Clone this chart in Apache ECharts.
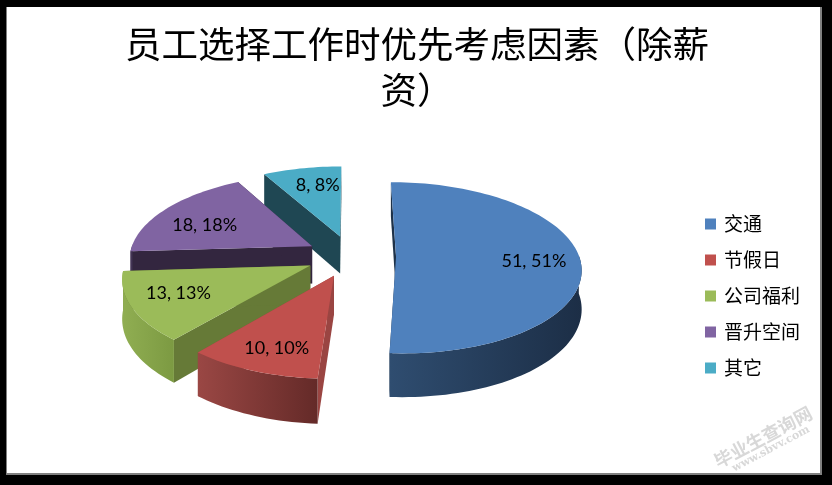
<!DOCTYPE html>
<html><head><meta charset="utf-8">
<style>html,body{margin:0;padding:0;background:#000}#c{width:832px;height:485px}</style>
<script src="https://cdn.jsdelivr.net/npm/echarts@6/dist/echarts.min.js"></script>
</head><body><div id="c"></div>
<script>
const categories = ['交通','节假日','公司福利','晋升空间','其它'];
const values = [51,10,13,18,8];
const percents = [51,10,13,18,8];
const titleLines = ['员工选择工作时优先考虑因素（除薪','资）'];

const topColors = ['#4f81bd','#c0504d','#9bbb59','#8064a2','#4bacc6'];
const radialColors = ['#1e3249','#9a4542','#667a37','#33263f','#1f4753'];
const wallFrom = ['#2f4d70','#9a4744','#90ae52','#4a3a5e','#2a6070'];
const wallTo = ['#1c2e46','#642a28','#7c9a42','#3a2d4a','#1f4753'];
const labelNudge = [[0,2],[2,3],[0,-4],[4,6],[7,0]];

const cx=351, cy=256, rx=183, ry=84, k=0.13, explode=0.246, depth=38, labelR=0.75;
const total = values.reduce((a,b)=>a+b,0);
function project(u,v,z){const s=1/(1-k*v);return [cx+rx*u*s, cy+ry*v*s+(z?depth*s:0)];}
function rad(i){let sum=0;for(let j=0;j<i;j++)sum+=values[j];return sum/total*Math.PI*2;}

function renderSlice(i){
  return function(params,api){
    const a0=rad(i), span=api.value(0)/total*Math.PI*2, am=a0+span/2;
    const ax=explode*Math.sin(am), ay=-explode*Math.cos(am);
    const rim=[], rimZ=[], front=[], frontZ=[];
    const n=Math.max(8,Math.ceil(span/0.03));
    for(let t=0;t<=n;t++){
      const a=a0+span*t/n, u=ax+Math.sin(a), v=ay-Math.cos(a);
      const p=project(u,v,false), q=project(u,v,true);
      rim.push(p); rimZ.push(q);
      if(Math.cos(a)<0.03){front.push(p);frontZ.push(q);}
    }
    const apex=project(ax,ay,false), apexZ=project(ax,ay,true);
    const grad=new echarts.graphic.LinearGradient(0,0,1,0,[{offset:0,color:wallFrom[i]},{offset:1,color:wallTo[i]}]);
    const poly=(points,fill,zz)=>({type:'polygon',shape:{points},style:{fill},z2:zz});
    const lu=ax+labelR*Math.sin(am), lv=ay-labelR*Math.cos(am), lp=project(lu,lv,false);
    const kids=[
      poly([apex,rim[0],rimZ[0],apexZ],radialColors[i],1),
      poly([apex,rim[n],rimZ[n],apexZ],radialColors[i],1),
      poly([apex].concat(rim),topColors[i],3),
      {type:'text',x:lp[0]+labelNudge[i][0],y:lp[1]+1+labelNudge[i][1],z2:4,style:{text:api.value(0)+', '+percents[i]+'%',align:'center',verticalAlign:'middle',fill:'#000',font:'18px Lato, "Open Sans", sans-serif'}}
    ];
    if(front.length>1) kids.push(poly(front.concat(frontZ.slice().reverse()),grad,2));
    return {type:'group',children:kids};
  };
}

const series = categories.map((name,i)=>({
  name, type:'custom', coordinateSystem:'none', silent:true, animation:false,
  itemStyle:{color:topColors[i]}, data:[[values[i]]], z:10+[4,3,2,1,0][i],
  renderItem:renderSlice(i), encode:{value:0}
}));

const chart=echarts.init(document.getElementById('c'),null,{renderer:'canvas'});
chart.setOption({
  animation:false, backgroundColor:'#000',
  title:{text:titleLines.join('\n'),left:412,top:16,textAlign:'center',
    textStyle:{fontFamily:'"Noto Sans CJK SC"',fontSize:36.5,fontWeight:'normal',color:'#000',lineHeight:46}},
  legend:{data:categories,orient:'vertical',left:700,top:209,itemWidth:11,itemHeight:11,itemGap:16,
    icon:'rect',selectedMode:false,textStyle:{fontFamily:'"Noto Sans CJK SC"',fontSize:19,color:'#000',padding:[0,0,0,3],lineHeight:20}},
  graphic:[
    {type:'rect',z:-10,silent:true,shape:{x:6,y:7,width:816,height:468},style:{fill:'#808080'}},
    {type:'rect',z:-9,silent:true,shape:{x:7,y:7,width:813,height:466},style:{fill:'#fff'}},
    {type:'text',z:100,silent:true,x:763,y:437,rotation:0.49,style:{text:'毕业生查询网',align:'center',verticalAlign:'middle',fill:'#d8d8d8',font:'bold 18px "Noto Sans CJK SC"'}},
    {type:'text',z:100,silent:true,x:771,y:449,rotation:0.49,style:{text:'www.sbvv.com',align:'center',verticalAlign:'middle',fill:'#d8d8d8',font:'bold 11px "DejaVu Serif"',letterSpacing:2.5}}
  ],
  series
});
</script></body></html>
